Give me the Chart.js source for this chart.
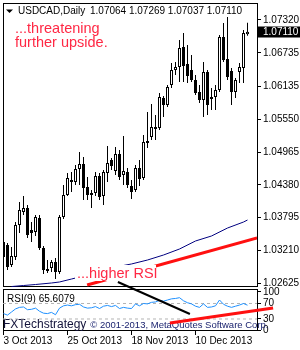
<!DOCTYPE html>
<html>
<head>
<meta charset="utf-8">
<script src="https://cdn.jsdelivr.net/npm/chart.js@4.4.0/dist/chart.umd.min.js"></script>
<style>
  html, body { margin: 0; padding: 0; background: #fff; }
  #wrap { width: 300px; height: 350px; }
</style>
</head>
<body>
<div id="wrap"><canvas id="chart" width="300" height="350"></canvas></div>
<script>
// USDCAD daily candles, 3 Oct 2013 onwards (one entry per bar)
const opens = [1.03362, 1.03308, 1.02952, 1.03094, 1.03665, 1.03897, 1.03968, 1.03576, 1.03540, 1.03790,
  1.03255, 1.02880, 1.02898, 1.03005, 1.02827, 1.03808, 1.04200, 1.04467, 1.04432, 1.04663,
  1.04752, 1.04342, 1.04200, 1.04235, 1.04539, 1.04182, 1.04592, 1.04824, 1.04628, 1.04931,
  1.04556, 1.04610, 1.04360, 1.04289, 1.04681, 1.04503, 1.05163, 1.05234, 1.05377, 1.05394,
  1.05929, 1.05804, 1.06161, 1.06428, 1.06482, 1.06839, 1.06536, 1.06428, 1.06250, 1.06036,
  1.05894, 1.06393, 1.05911, 1.05947, 1.06072, 1.07017, 1.06625, 1.06411, 1.06036, 1.06393,
  1.06464, 1.07064];
const highs = [1.03397, 1.03344, 1.03273, 1.03718, 1.04075, 1.04182, 1.04021, 1.03718, 1.03843, 1.03843,
  1.03291, 1.03041, 1.03041, 1.03077, 1.03843, 1.04378, 1.04592, 1.04610, 1.04735, 1.04966,
  1.04877, 1.04521, 1.04289, 1.04610, 1.04592, 1.04646, 1.05073, 1.04859, 1.05056, 1.05002,
  1.05252, 1.04681, 1.04467, 1.04735, 1.04824, 1.05270, 1.05680, 1.05822, 1.05626, 1.06018,
  1.05965, 1.06161, 1.06553, 1.06571, 1.06963, 1.07088, 1.06874, 1.06696, 1.06339, 1.06161,
  1.06571, 1.06428, 1.06108, 1.06161, 1.07053, 1.07267, 1.07373, 1.06464, 1.06286, 1.06553,
  1.07142, 1.07269];
const lows = [1.03041, 1.02863, 1.02916, 1.03041, 1.03522, 1.03843, 1.03433, 1.03362, 1.03469, 1.03219,
  1.02791, 1.02809, 1.02827, 1.02702, 1.02791, 1.03772, 1.04182, 1.04253, 1.04378, 1.04378,
  1.04110, 1.04110, 1.03968, 1.04182, 1.04110, 1.04021, 1.04432, 1.04646, 1.04556, 1.04467,
  1.04378, 1.04324, 1.04128, 1.04253, 1.04360, 1.04467, 1.05038, 1.05180, 1.05180, 1.05359,
  1.05590, 1.05769, 1.06108, 1.06339, 1.06215, 1.06215, 1.06197, 1.06215, 1.05983, 1.05840,
  1.05590, 1.05626, 1.05715, 1.05715, 1.06036, 1.06571, 1.06250, 1.05804, 1.05929, 1.06197,
  1.06197, 1.07037];
const closes = [1.03094, 1.02916, 1.03112, 1.03665, 1.03932, 1.03968, 1.03487, 1.03522, 1.03808, 1.03255,
  1.02863, 1.02845, 1.03005, 1.02827, 1.03808, 1.04200, 1.04503, 1.04432, 1.04663, 1.04752,
  1.04324, 1.04200, 1.04235, 1.04539, 1.04164, 1.04610, 1.04770, 1.04717, 1.04931, 1.04521,
  1.04628, 1.04378, 1.04253, 1.04681, 1.04485, 1.05145, 1.05127, 1.05412, 1.05412, 1.05947,
  1.05804, 1.06125, 1.06428, 1.06482, 1.06821, 1.06500, 1.06322, 1.06250, 1.06018, 1.05894,
  1.06393, 1.05804, 1.05947, 1.06072, 1.07017, 1.06607, 1.06304, 1.06036, 1.06250, 1.06482,
  1.07088, 1.07110];

// RSI(9), one value per bar
const rsiValues = [44, 40, 48, 56, 60, 61, 54, 55, 58, 50,
  45, 44, 47, 41, 58, 64, 66, 64, 67, 68,
  61, 58, 59, 62, 57, 63, 65, 62, 65, 57,
  60, 58, 57, 69, 64, 70, 69, 73, 74, 78,
  76, 79, 82, 83, 85, 77, 72, 69, 63, 60,
  69, 60, 61, 64, 79, 68, 63, 60, 63, 66,
  70, 65.6079];

// long moving average, read at a few bars
const maBars = [2, 5, 8, 12, 14, 17, 20, 24, 28, 32, 36, 40, 44, 48, 52, 56, 60, 61];
const maValues = [1.02568, 1.02586, 1.02604, 1.02631, 1.02649, 1.02702, 1.02756, 1.02845, 1.02916,
  1.02970, 1.03041, 1.03130, 1.03237, 1.03380, 1.03469, 1.03611, 1.03718, 1.03754];

const priceTicks = [1.07320, 1.06735, 1.06135, 1.05550, 1.04965, 1.04380, 1.03795, 1.03210, 1.02625];
const rsiTicks = [100, 70, 30, 0];
const rsiLevels = [70, 30];
const dateTickBars = [0, 16, 32, 48];
const dateTickLabels = ['3 Oct 2013', '25 Oct 2013', '18 Nov 2013', '10 Dec 2013'];

// hand drawn trend lines: [bar, value]
const priceTrend = [[20.9, 1.02595], [63.4, 1.03433]];
const rsiTrend = [[41.6, 19.7], [67.4, 58.4]];
const divergenceLine = [[28.6, 125.5], [46.6, 42.9]];   // on the rsi axis, starts up in the price pane

const FONT = "'Liberation Sans', Arial, sans-serif";
const RED_TEXT = '#ff2844';
const X_MIN = -0.125, X_MAX = 63.375;

Chart.defaults.font.family = FONT;
Chart.defaults.font.size = 10;
Chart.defaults.color = '#000';

const bars = opens.map((_, i) => i);
const last = closes.length - 1;
const toPts = arr => arr.map(p => ({ x: p[0], y: p[1] }));

const overlay = {
    id: 'overlay',
    beforeDatasetsDraw(chart) {
        const ctx = chart.ctx;
        const area = chart.chartArea;
        const py = chart.scales.y, ry = chart.scales.rsi;
        ctx.save();
        // pane frames
        ctx.strokeStyle = '#000';
        ctx.lineWidth = 1;
        ctx.strokeRect(area.left + 0.5, py.top + 0.5, area.right - area.left, py.bottom - py.top - 3);
        ctx.strokeRect(area.left + 0.5, ry.top + 0.5, area.right - area.left, ry.bottom - ry.top - 1);

        // symbol header
        ctx.fillStyle = '#000';
        ctx.beginPath();
        ctx.moveTo(6, 9.5); ctx.lineTo(13, 9.5); ctx.lineTo(9.5, 13); ctx.closePath();
        ctx.fill();
        ctx.font = '10px ' + FONT;
        ctx.textBaseline = 'alphabetic';
        ctx.textAlign = 'left';
        ctx.fillText('USDCAD,Daily', 18, 14);
        const ohlc = [opens[last], highs[last], lows[last], closes[last]].map(v => v.toFixed(5)).join(' ');
        ctx.fillText(ohlc, 90, 14);

        // rsi header
        ctx.fillText('RSI(9) ' + rsiValues[last].toFixed(4), 7, 301.5);

        // copyright line
        ctx.font = '12px ' + FONT;
        ctx.fillStyle = '#12123a';
        ctx.fillText('FXTechstrategy', 3, 327.5);
        const w = ctx.measureText('FXTechstrategy').width;
        ctx.font = '9.5px ' + FONT;
        ctx.fillStyle = '#1c2470';
        ctx.fillText('\u00a9 2001-2013, MetaQuotes Software Corp.', 3 + w + 4, 327.5);
        ctx.restore();
    },
    afterDatasetsDraw(chart) {
        const ctx = chart.ctx;
        const area = chart.chartArea;
        const py = chart.scales.y;
        ctx.save();
        ctx.font = '14.5px ' + FONT;
        ctx.textAlign = 'left';
        ctx.textBaseline = 'alphabetic';
        ctx.fillStyle = RED_TEXT;
        ctx.fillText('...threatening', 15, 33);
        ctx.fillText('further upside.', 15, 46.5);

        // label with a white backing
        ctx.fillStyle = '#fff';
        ctx.fillRect(75, 265, 81, 16);
        ctx.fillStyle = RED_TEXT;
        ctx.fillText('...higher RSI', 77, 277.5);

        // last price marker
        const y = py.getPixelForValue(closes[last]);
        ctx.fillStyle = '#000';
        ctx.fillRect(area.right, Math.round(y) - 5.5, 300 - area.right, 11);
        ctx.fillStyle = '#fff';
        ctx.font = '10px ' + FONT;
        ctx.textBaseline = 'middle';
        ctx.fillText(closes[last].toFixed(5), area.right + 6, Math.round(y));
        ctx.restore();
    }
};

new Chart(document.getElementById('chart'), {
    type: 'bar',
    data: {
        datasets: [
            {
                label: 'wick',
                data: bars.map(i => ({ x: i, y: [lows[i], highs[i]] })),
                yAxisID: 'y',
                backgroundColor: '#000',
                borderWidth: 0,
                barThickness: 1,
                grouped: false,
                inflateAmount: 0,
                order: 5
            },
            {
                label: 'body',
                data: bars.map(i => ({ x: i, y: [opens[i], closes[i]] })),
                yAxisID: 'y',
                backgroundColor: bars.map(i => closes[i] >= opens[i] ? '#fff' : '#000'),
                borderColor: '#000',
                borderWidth: 1,
                borderSkipped: false,
                barThickness: 3,
                grouped: false,
                inflateAmount: 0,
                minBarLength: 1,
                order: 4
            },
            {
                type: 'line',
                label: 'MA',
                data: maBars.map((b, i) => ({ x: b, y: maValues[i] })),
                yAxisID: 'y',
                borderColor: '#000080',
                borderWidth: 1,
                pointRadius: 0,
                order: 3
            },
            ...rsiLevels.map(lv => ({
                type: 'line',
                label: 'level ' + lv,
                data: [{ x: X_MIN, y: lv }, { x: X_MAX, y: lv }],
                yAxisID: 'rsi',
                borderColor: '#b4b4b4',
                borderWidth: 1,
                borderDash: [3, 3],
                pointRadius: 0,
                order: 3
            })),
            {
                type: 'line',
                label: 'RSI',
                data: bars.map(i => ({ x: i, y: rsiValues[i] })),
                yAxisID: 'rsi',
                borderColor: '#1e90ff',
                borderWidth: 1,
                pointRadius: 0,
                order: 2
            },
            {
                type: 'line',
                label: 'price trend',
                data: toPts(priceTrend),
                yAxisID: 'y',
                borderColor: '#ff1010',
                borderWidth: 3,
                pointRadius: 0,
                order: 1
            },
            {
                type: 'line',
                label: 'rsi trend',
                data: toPts(rsiTrend),
                yAxisID: 'rsi',
                borderColor: '#ff1010',
                borderWidth: 3,
                pointRadius: 0,
                clip: false,
                order: 1
            },
            {
                type: 'line',
                label: 'divergence',
                data: toPts(divergenceLine),
                yAxisID: 'rsi',
                borderColor: '#000',
                borderWidth: 2,
                pointRadius: 0,
                clip: false,
                order: 1
            }
        ]
    },
    options: {
        responsive: false,
        devicePixelRatio: 1,
        animation: false,
        events: [],
        layout: { padding: { left: 3, top: 3, right: 0, bottom: 0 } },
        plugins: { legend: { display: false }, tooltip: { enabled: false } },
        scales: {
            x: {
                type: 'linear',
                position: 'bottom',
                min: X_MIN,
                max: X_MAX,
                offset: false,
                grid: { drawOnChartArea: false, drawTicks: true, tickLength: 4, color: '#000', offset: false },
                border: { display: false },
                ticks: {
                    align: 'start', padding: 0, autoSkip: false, maxRotation: 0, minRotation: 0,
                    callback: v => dateTickLabels[dateTickBars.indexOf(v)] || ''
                },
                afterBuildTicks: s => { s.ticks = dateTickBars.map(v => ({ value: v })); },
                afterFit: s => { s.height = 19; s.paddingLeft = 0; s.paddingRight = 0; }
            },
            y: {
                type: 'linear',
                position: 'right',
                stack: 'panes',
                stackWeight: 286,
                min: 1.02524,
                max: 1.07623,
                grid: { drawOnChartArea: false, tickLength: 4, color: '#000' },
                border: { display: false },
                ticks: { padding: 2, autoSkip: false, callback: v => v.toFixed(5) },
                afterBuildTicks: s => { s.ticks = priceTicks.map(v => ({ value: v })); },
                afterFit: s => { s.width = 43; s.paddingTop = 0; s.paddingBottom = 0; }
            },
            rsi: {
                type: 'linear',
                position: 'right',
                stack: 'panes',
                stackWeight: 42,
                min: -1,
                max: 107.4,
                grid: { drawOnChartArea: false, tickLength: 4, color: '#000' },
                border: { display: false },
                ticks: { padding: 2, autoSkip: false, callback: v => String(v) },
                afterBuildTicks: s => { s.ticks = rsiTicks.map(v => ({ value: v })); },
                afterFit: s => { s.width = 43; s.paddingTop = 0; s.paddingBottom = 0; }
            }
        }
    },
    plugins: [overlay]
});
</script>
</body>
</html>
